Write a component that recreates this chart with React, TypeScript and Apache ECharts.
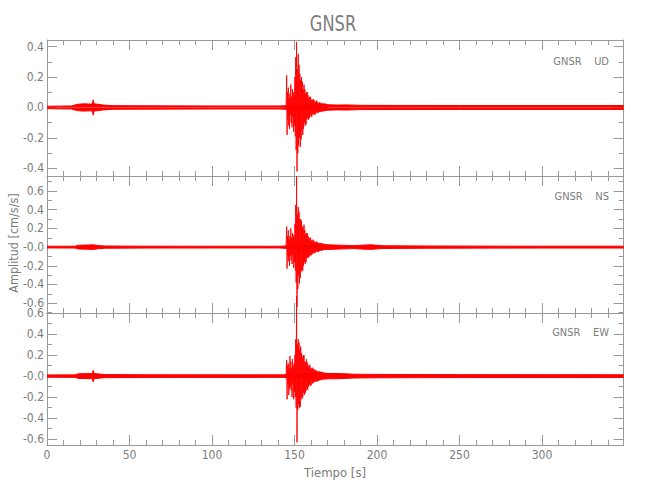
import React, { useEffect, useRef } from "react";
import * as echarts from "echarts";

// ---- text ----
const titleText = "GNSR";
const xName = "Tiempo [s]";
const yName = "Amplitud [cm/s/s]";
const panelNames = ["GNSR    UD", "GNSR    NS", "GNSR    EW"];

// ---- x axis ticks ----
const xMax = 349.5;
const xMajorTicks = [0, 50, 100, 150, 200, 250, 300];
const xMinorTicks = [10, 20, 30, 40, 60, 70, 80, 90, 110, 120, 130, 140, 160, 170, 180, 190, 210, 220, 230, 240, 260, 270, 280, 290, 310, 320, 330, 340];

// ---- y axes ----
const udRange = [-0.45, 0.443];
const udMajor = [-0.4, -0.2, 0, 0.2, 0.4];
const udLabels = ["-0.4", "-0.2", "0.0", "0.2", "0.4"];
const udMinor = [-0.3, -0.1, 0.1, 0.3];

const nsRange = [-0.705, 0.761];
const nsMajor = [-0.6, -0.4, -0.2, 0, 0.2, 0.4, 0.6];
const nsLabels = ["-0.6", "-0.4", "-0.2", "-0.0", "0.2", "0.4", "0.6"];
const nsMinor = [-0.7, -0.5, -0.3, -0.1, 0.1, 0.3, 0.5, 0.7];

const ewRange = [-0.655, 0.6];
const ewMajor = [-0.6, -0.4, -0.2, 0, 0.2, 0.4, 0.6];
const ewLabels = ["-0.6", "-0.4", "-0.2", "-0.0", "0.2", "0.4", "0.6"];
const ewMinor = [-0.5, -0.3, -0.1, 0.1, 0.3, 0.5];

// ---- background noise half-width [t (s), amplitude] ----
const udNoise = [[0, 0.008], [15, 0.01], [18, 0.02], [22, 0.024], [26, 0.022], [27.5, 0.024], [28, 0.05], [28.5, 0.024], [31, 0.021], [34, 0.016], [40, 0.012], [60, 0.011], [100, 0.01], [140, 0.01], [144.5, 0.011], [170, 0.018], [176, 0.016], [182, 0.017], [190, 0.014], [250, 0.013], [300, 0.013], [349.5, 0.013]];
const nsNoise = [[0, 0.009], [17, 0.01], [19, 0.02], [24, 0.022], [28, 0.025], [31, 0.017], [35, 0.012], [60, 0.01], [140, 0.009], [144.5, 0.012], [170, 0.025], [178, 0.02], [186, 0.016], [192, 0.022], [197, 0.024], [203, 0.015], [230, 0.012], [300, 0.01], [349.5, 0.01]];
const ewNoise = [[0, 0.011], [17, 0.012], [19, 0.022], [24, 0.024], [27.5, 0.025], [28, 0.055], [28.5, 0.025], [31, 0.021], [35, 0.015], [60, 0.013], [140, 0.012], [144.5, 0.013], [170, 0.026], [178, 0.024], [186, 0.018], [200, 0.016], [250, 0.014], [349.5, 0.013]];

// ---- main arrival, successive peaks every 0.25 s from 144.5 s ----
const burstStart = 144.5;
const burstStep = 0.25;
const udBurst = [
  0.012, -0.015, 0.06, 0.21, -0.18, 0.1, -0.08, 0.13, -0.12, 0.06, -0.14, 0.09,
  -0.05, 0.15, -0.1, 0.07, -0.13, 0.12, -0.06, 0.1, -0.16, 0.08, -0.12, 0.2,
  -0.19, 0.33, -0.28, 0.43, -0.42, 0.25, -0.3, 0.35, -0.25, 0.28, -0.2, 0.22,
  -0.26, 0.18, -0.21, 0.2, -0.15, 0.17, -0.18, 0.12, -0.14, 0.15, -0.1, 0.12,
  -0.12, 0.09, -0.11, 0.1, -0.08, 0.1, -0.07, 0.08, -0.08, 0.06, -0.07, 0.07,
  -0.05, 0.07, -0.06, 0.05, -0.06, 0.05, -0.045, 0.055, -0.04, 0.05, -0.05, 0.04,
  -0.045, 0.035, -0.04, 0.045, -0.03, 0.04, -0.035, 0.03, -0.035, 0.03, -0.03, 0.035,
  -0.025, 0.03, -0.03, 0.025, -0.03, 0.025, -0.02, 0.03, -0.025, 0.02, -0.025, 0.025,
  -0.02, 0.025, -0.02, 0.02, -0.02, 0.02, -0.015,
];
const nsBurst = [
  0.015, -0.02, 0.08, 0.22, -0.23, 0.12, -0.1, 0.18, -0.15, 0.08, -0.2, 0.12,
  -0.09, 0.2, -0.14, 0.1, -0.18, 0.15, -0.08, 0.13, -0.22, 0.1, -0.16, 0.25,
  -0.25, 0.45, -0.38, 0.76, -0.64, 0.35, -0.45, 0.43, -0.3, 0.38, -0.39, 0.3,
  -0.33, 0.3, -0.25, 0.28, -0.26, 0.22, -0.25, 0.2, -0.2, 0.24, -0.16, 0.18,
  -0.18, 0.14, -0.16, 0.15, -0.12, 0.15, -0.11, 0.12, -0.11, 0.09, -0.1, 0.1,
  -0.08, 0.1, -0.09, 0.07, -0.08, 0.07, -0.07, 0.08, -0.06, 0.07, -0.065, 0.055,
  -0.06, 0.05, -0.055, 0.06, -0.045, 0.055, -0.05, 0.045, -0.05, 0.04, -0.045, 0.045,
  -0.04, 0.045, -0.035, 0.04, -0.04, 0.035, -0.035, 0.04, -0.03, 0.035, -0.03, 0.03,
  -0.03, 0.03, -0.025, 0.03, -0.025, 0.025, -0.02,
];
const ewBurst = [
  0.015, -0.02, 0.05, 0.15, -0.22, 0.1, -0.08, 0.12, -0.18, 0.07, -0.12, 0.19,
  -0.1, 0.14, -0.14, 0.08, -0.2, 0.16, -0.07, 0.1, -0.22, 0.12, -0.15, 0.2,
  -0.2, 0.35, -0.3, 0.76, -0.63, 0.3, -0.32, 0.35, -0.27, 0.32, -0.3, 0.25,
  -0.29, 0.28, -0.2, 0.22, -0.22, 0.18, -0.2, 0.2, -0.16, 0.2, -0.18, 0.14,
  -0.16, 0.13, -0.14, 0.16, -0.11, 0.13, -0.13, 0.1, -0.1, 0.09, -0.08, 0.11,
  -0.09, 0.08, -0.09, 0.07, -0.07, 0.08, -0.07, 0.065, -0.06, 0.07, -0.055, 0.06,
  -0.055, 0.05, -0.05, 0.055, -0.05, 0.045, -0.05, 0.045, -0.045, 0.04, -0.04, 0.045,
  -0.04, 0.04, -0.035, 0.04, -0.035, 0.04, -0.035, 0.035, -0.03, 0.035, -0.03, 0.03,
  -0.03, 0.03, -0.03, 0.03, -0.025, 0.025, -0.02,
];

const RED = "#ff0000";
const AXIS = "#9a9a9a";
const TEXT = "#7c7c7c";
const FONT = "'Liberation Sans Narrow', 'DejaVu Sans Condensed', 'Liberation Sans', sans-serif";

export default function App() {
  const ref = useRef<HTMLDivElement>(null);

  useEffect(() => {
    const chart = echarts.init(ref.current!, undefined, { renderer: "svg", width: 650, height: 500 });

    const panels = [
      { range: udRange, major: udMajor, labels: udLabels, minor: udMinor, noise: udNoise, burst: udBurst },
      { range: nsRange, major: nsMajor, labels: nsLabels, minor: nsMinor, noise: nsNoise, burst: nsBurst },
      { range: ewRange, major: ewMajor, labels: ewLabels, minor: ewMinor, noise: ewNoise, burst: ewBurst },
    ];
    const gridTops = [40, 176, 313];
    const gridHeights = [136, 137, 132];
    const labelYs = [61, 196, 332];
    const gridLeft = 47;
    const gridRight = 650 - 623.7;

    const grids: any[] = [];
    const xAxes: any[] = [];
    const yAxes: any[] = [];
    const series: any[] = [];
    const graphics: any[] = [];

    panels.forEach((p, g) => {
      grids.push({ left: gridLeft, right: gridRight, top: gridTops[g], height: gridHeights[g], containLabel: false });

      const xBase = (position: string, major: boolean, showLabel: boolean) => ({
        type: "value",
        gridIndex: g,
        position,
        min: 0,
        max: xMax,
        axisLine: { show: major, onZero: false, lineStyle: { color: AXIS, width: 1 } },
        axisTick: {
          show: true,
          inside: true,
          length: major ? 10 : 5,
          customValues: major ? xMajorTicks : xMinorTicks,
          lineStyle: { color: AXIS, width: 1 },
        },
        axisLabel: {
          show: showLabel,
          customValues: xMajorTicks,
          margin: 4,
          fontSize: 12,
          color: TEXT,
          fontFamily: FONT,
        },
        splitLine: { show: false },
      });
      xAxes.push(xBase("bottom", true, g === 2));
      xAxes.push(xBase("bottom", false, false));
      xAxes.push(xBase("top", true, false));
      xAxes.push(xBase("top", false, false));

      const yBase = (position: string, major: boolean, showLabel: boolean) => ({
        type: "value",
        gridIndex: g,
        position,
        min: p.range[0],
        max: p.range[1],
        axisLine: { show: major, onZero: false, lineStyle: { color: AXIS, width: 1 } },
        axisTick: {
          show: true,
          inside: true,
          length: major ? 10 : 5,
          customValues: major ? p.major : p.minor,
          lineStyle: { color: AXIS, width: 1 },
        },
        axisLabel: {
          show: showLabel,
          customValues: p.major,
          margin: 3,
          fontSize: 12,
          color: TEXT,
          fontFamily: FONT,
          formatter: (v: number) => {
            const i = p.major.findIndex((m) => Math.abs(m - v) < 1e-6);
            return i >= 0 ? p.labels[i] : "";
          },
        },
        splitLine: { show: false },
      });
      yAxes.push(yBase("left", true, true));
      yAxes.push(yBase("left", false, false));
      yAxes.push(yBase("right", true, false));
      yAxes.push(yBase("right", false, false));

      const xi = 4 * g;
      const yi = 4 * g;
      // noise band: upper and lower envelopes, each filled to zero
      series.push({
        type: "line",
        xAxisIndex: xi,
        yAxisIndex: yi,
        data: p.noise.map(([t, h]) => [t, h]),
        symbol: "none",
        silent: true,
        lineStyle: { color: RED, width: 1 },
        areaStyle: { color: RED, opacity: 1, origin: 0 },
      });
      series.push({
        type: "line",
        xAxisIndex: xi,
        yAxisIndex: yi,
        data: p.noise.map(([t, h]) => [t, -h]),
        symbol: "none",
        silent: true,
        lineStyle: { color: RED, width: 1 },
        areaStyle: { color: RED, opacity: 1, origin: 0 },
      });
      series.push({
        type: "line",
        xAxisIndex: xi,
        yAxisIndex: yi,
        data: p.burst.map((v, i) => [burstStart + i * burstStep, v]),
        symbol: "none",
        silent: true,
        clip: false,
        lineStyle: { color: RED, width: 0.9 },
      });

      graphics.push({
        type: "text",
        x: 609,
        y: labelYs[g],
        style: { text: panelNames[g], align: "right", verticalAlign: "middle", fontSize: 11, fill: TEXT, fontFamily: FONT },
      });
    });

    graphics.push({
      type: "text",
      x: 333,
      y: 23,
      scaleX: 0.82,
      style: { text: titleText, align: "center", verticalAlign: "middle", fontSize: 22, fill: TEXT, fontFamily: FONT },
    });
    graphics.push({
      type: "text",
      x: 335,
      y: 472,
      style: { text: xName, align: "center", verticalAlign: "middle", fontSize: 13, fill: TEXT, fontFamily: FONT },
    });
    graphics.push({
      type: "text",
      x: 13,
      y: 243,
      rotation: Math.PI / 2,
      style: { text: yName, align: "center", verticalAlign: "middle", fontSize: 12.5, fill: TEXT, fontFamily: FONT },
    });

    chart.setOption({
      animation: false,
      backgroundColor: "#ffffff",
      grid: grids,
      xAxis: xAxes,
      yAxis: yAxes,
      series,
      graphic: graphics,
    });

    return () => chart.dispose();
  }, []);

  return (
    <div
      ref={ref}
      style={{ position: "fixed", left: 0, top: 0, width: 650, height: 500, background: "#ffffff" }}
    />
  );
}
